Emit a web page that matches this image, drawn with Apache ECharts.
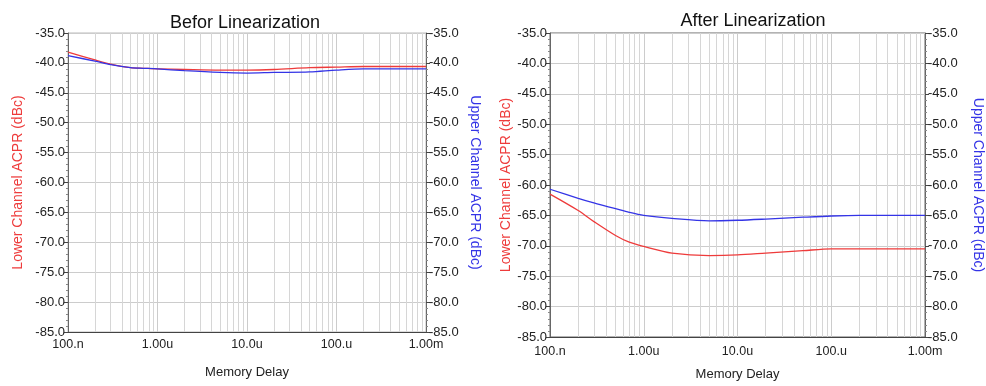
<!DOCTYPE html>
<html>
<head>
<meta charset="utf-8">
<script src="https://cdn.jsdelivr.net/npm/echarts@6/dist/echarts.min.js"></script>
<style>
  html, body { margin: 0; padding: 0; background: #fff; }
  #chart { width: 986px; height: 386px; }
</style>
</head>
<body>
<div id="chart"></div>
<script>
// memory delay sweep, in ns (100n .. 1m)
const memoryDelay = [100, 200, 300, 500, 700, 1000, 2000, 5000, 10000, 20000, 50000, 100000, 200000, 500000, 1000000];

// before linearization (dBc)
const beforeLower = [-38.2, -39.5, -40.2, -40.8, -40.9, -41.0, -41.1, -41.2, -41.2, -41.1, -40.8, -40.7, -40.6, -40.6, -40.6];
const beforeUpper = [-38.8, -39.7, -40.3, -40.8, -40.9, -41.0, -41.3, -41.6, -41.7, -41.6, -41.5, -41.2, -41.0, -41.0, -41.0];

// after linearization (dBc)
const afterLower = [-61.5, -64.2, -66.1, -68.3, -69.4, -70.1, -71.2, -71.6, -71.5, -71.2, -70.8, -70.5, -70.5, -70.5, -70.5];
const afterUpper = [-60.7, -62.2, -63.0, -63.9, -64.5, -65.0, -65.5, -65.9, -65.8, -65.6, -65.3, -65.1, -65.0, -65.0, -65.0];

const xTickLabels = ['100.n', '1.00u', '10.0u', '100.u', '1.00m'];
const titles = ['Befor Linearization', 'After Linearization'];

const RED = '#ee3b3b';
const BLUE = '#3434e6';
const FONT = 'Liberation Sans, Arial, sans-serif';

// minor vertical grid positions (2..9 in each decade)
const minorX = [];
for (let d = 100; d < 1000000; d *= 10) {
  for (let k = 2; k <= 9; k++) minorX.push({ xAxis: d * k });
}

const zip = (xs, ys) => xs.map((x, i) => [x, ys[i]]);

const makeX = (gi, labelMargin, nameGap) => ({
  type: 'log',
  logBase: 10,
  gridIndex: gi,
  min: 100,
  max: 1000000,
  splitNumber: 4,
  name: 'Memory Delay',
  nameLocation: 'middle',
  nameGap: nameGap,
  nameTextStyle: { color: '#222', fontSize: 13, fontFamily: FONT },
  axisLine: { lineStyle: { color: '#444', width: 1 } },
  axisTick: { show: false },
  axisLabel: {
    color: '#222', fontSize: 12.5, fontFamily: FONT, margin: labelMargin,
    formatter: v => xTickLabels[Math.round(Math.log10(v)) - 2]
  },
  splitLine: { show: true, lineStyle: { color: '#cccccc', width: 1 } }
});

const makeY = (gi, pos, name, color, nameGap, rot) => ({
  type: 'value',
  gridIndex: gi,
  position: pos,
  min: -85,
  max: -35,
  interval: 5,
  name: name,
  nameLocation: 'middle',
  nameGap: nameGap,
  nameRotate: rot,
  nameTextStyle: { color: color, fontSize: 14, fontFamily: FONT },
  axisLine: { show: true, lineStyle: { color: '#666', width: 1 } },
  axisTick: { show: true, length: 4, lineStyle: { color: '#444' } },
  minorTick: { show: true, splitNumber: 5, length: 2, lineStyle: { color: '#888' } },
  axisLabel: { color: '#222', fontSize: 13, fontFamily: FONT, margin: 3, formatter: v => v.toFixed(1) },
  splitLine: { show: pos === 'left', lineStyle: { color: '#cccccc', width: 1 } }
});

const makeLine = (name, gi, yi, ys, color, withGrid) => ({
  name: name,
  type: 'line',
  xAxisIndex: gi,
  yAxisIndex: yi,
  data: zip(memoryDelay, ys),
  showSymbol: false,
  smooth: 0.3,
  lineStyle: { color: color, width: 1.3 },
  itemStyle: { color: color },
  z: 3,
  markLine: withGrid ? {
    silent: true,
    symbol: 'none',
    label: { show: false },
    lineStyle: { color: '#d6d6d6', type: 'solid', width: 1 },
    data: minorX,
    z: 1
  } : undefined
});

const chart = echarts.init(document.getElementById('chart'));
chart.setOption({
  backgroundColor: '#fff',
  animation: false,
  title: [
    { text: titles[0], left: 240, top: 9, textAlign: 'center',
      textStyle: { fontSize: 18, fontWeight: 'normal', color: '#111', fontFamily: FONT } },
    { text: titles[1], left: 748, top: 7, textAlign: 'center',
      textStyle: { fontSize: 18, fontWeight: 'normal', color: '#111', fontFamily: FONT } }
  ],
  grid: [
    { left: 68, right: 560, top: 33, height: 299, show: true, borderColor: '#bbb', borderWidth: 1 },
    { left: 550, right: 61, top: 33, height: 309, show: true, borderColor: '#666', borderWidth: 1 }
  ],
  xAxis: [makeX(0, 6, 34), makeX(1, 8, 31)],
  yAxis: [
    makeY(0, 'left', 'Lower Channel ACPR (dBc)', RED, 43, 90),
    makeY(0, 'right', 'Upper Channel ACPR (dBc)', BLUE, 42, -90),
    makeY(1, 'left', 'Lower Channel ACPR (dBc)', RED, 35, 90),
    makeY(1, 'right', 'Upper Channel ACPR (dBc)', BLUE, 46, -90)
  ],
  series: [
    makeLine('Before Lower', 0, 0, beforeLower, RED, true),
    makeLine('Before Upper', 0, 1, beforeUpper, BLUE, false),
    makeLine('After Lower', 1, 2, afterLower, RED, true),
    makeLine('After Upper', 1, 3, afterUpper, BLUE, false)
  ]
});
</script>
</body>
</html>
